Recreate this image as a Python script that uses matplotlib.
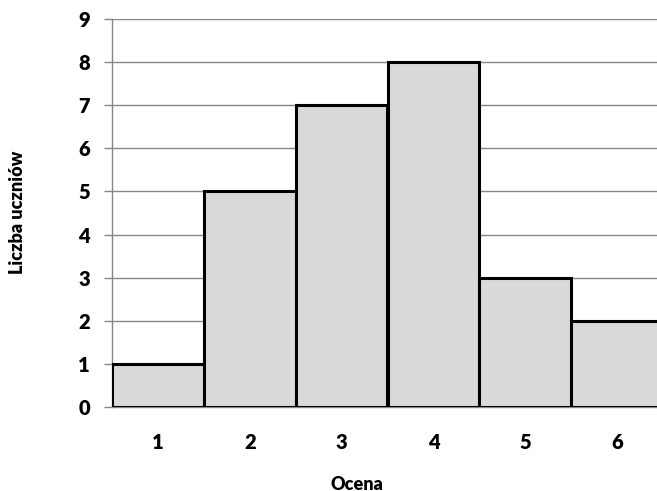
import matplotlib
matplotlib.use("Agg")
import matplotlib.pyplot as plt

grades = [1, 2, 3, 4, 5, 6]
counts = [1, 5, 7, 8, 3, 2]
yticks = list(range(0, 10))

plt.rcParams['font.family'] = ['Lato', 'DejaVu Sans']

W, H = 657, 491
fig = plt.figure(figsize=(W / 100, H / 100), dpi=100)
left, right = 112, 663
top, bottom = 19, 407
ax = fig.add_axes([left / W, 1 - bottom / H, (right - left) / W, (bottom - top) / H])

ax.set_axisbelow(True)
ax.yaxis.grid(True, color='#868686', linewidth=1)
ax.bar(grades, counts, width=1.0, color='#d9d9d9', edgecolor='black', linewidth=2.2, zorder=3)

ax.set_xlim(0.5, 6.5)
ax.set_ylim(0, 9)
ax.set_yticks(yticks)
ax.set_xticks(grades)
ax.tick_params(axis='y', length=6, width=1, color='#868686', pad=10, labelsize=14.5)
ax.tick_params(axis='x', length=0, pad=19, labelsize=14.5)
for lab in ax.get_xticklabels() + ax.get_yticklabels():
    lab.set_fontweight('heavy')

for s in ['top', 'right']:
    ax.spines[s].set_visible(False)
ax.spines['left'].set_color('#868686')
ax.spines['bottom'].set_color('#868686')
ax.spines['left'].set_linewidth(1)
ax.spines['bottom'].set_linewidth(1)

fig.text(357 / W, 1 - 484 / H, 'Ocena', ha='center', va='center', fontsize=13, fontweight='heavy')
fig.text(18 / W, 1 - 212 / H, 'Liczba uczniów', ha='center', va='center', rotation=90,
         fontsize=13, fontweight='heavy')

fig.savefig('out.png', dpi=100)
